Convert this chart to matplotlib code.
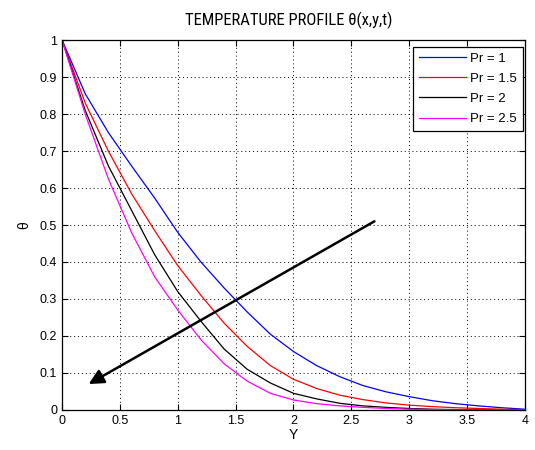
import numpy as np
import matplotlib
matplotlib.use("Agg")
import matplotlib.pyplot as plt
from matplotlib import font_manager

# data
y_pos = [0.0, 0.2, 0.4, 0.6, 0.8, 1.0, 1.2, 1.4, 1.6, 1.8, 2.0,
         2.2, 2.4, 2.6, 2.8, 3.0, 3.2, 3.4, 3.6, 3.8, 4.0]
theta_pr1 = [1.0, 0.855, 0.75, 0.66, 0.573, 0.48, 0.40, 0.33, 0.265, 0.205, 0.158,
             0.12, 0.09, 0.066, 0.049, 0.036, 0.025, 0.017, 0.011, 0.006, 0.002]
theta_pr15 = [1.0, 0.83, 0.70, 0.585, 0.485, 0.39, 0.31, 0.235, 0.172, 0.12, 0.083,
              0.058, 0.04, 0.028, 0.019, 0.013, 0.009, 0.006, 0.004, 0.002, 0.001]
theta_pr2 = [1.0, 0.81, 0.66, 0.54, 0.42, 0.32, 0.24, 0.165, 0.11, 0.073, 0.045,
             0.03, 0.018, 0.011, 0.007, 0.004, 0.002, 0.001, 0.001, 0.0, 0.0]
theta_pr25 = [1.0, 0.80, 0.625, 0.48, 0.36, 0.27, 0.19, 0.125, 0.078, 0.045, 0.027,
              0.017, 0.011, 0.007, 0.004, 0.002, 0.001, 0.0, 0.0, 0.0, 0.0]
labels = ["Pr = 1", "Pr = 1.5", "Pr = 2", "Pr = 2.5"]
colors = ["#0000ff", "#ff0000", "#000000", "#ff00ff"]

# arrow showing increasing Pr
arrow_start = (2.7, 0.51)
arrow_end = (0.23, 0.07)

plt.rcParams["font.family"] = ["Liberation Sans", "DejaVu Sans"]

# pick a narrow face for the title if one is installed
names = set(f.name for f in font_manager.fontManager.ttflist)
narrow = None
for n in ["Liberation Sans Narrow", "Roboto Condensed", "Open Sans Condensed"]:
    if n in names:
        narrow = n
        break
if narrow is not None:
    title_kw = dict(family=[narrow, "DejaVu Sans"], fontsize=12)
elif any(f.name == "DejaVu Sans" and "condensed" in str(f.stretch) for f in font_manager.fontManager.ttflist):
    title_kw = dict(family=["DejaVu Sans"], stretch="condensed", fontsize=10)
else:
    title_kw = dict(family=["DejaVu Sans"], fontsize=9)

fig = plt.figure(figsize=(5.35, 4.5), dpi=100)
ax = fig.add_axes([0.116, 0.089, 0.865, 0.822])

for th, lab, c in zip([theta_pr1, theta_pr15, theta_pr2, theta_pr25], labels, colors):
    ax.plot(y_pos, th, color=c, lw=0.9, label=lab)

ax.annotate("", xy=arrow_end, xytext=arrow_start,
            arrowprops=dict(arrowstyle="-|>,head_length=0.9,head_width=0.45",
                            color="black", lw=1.8, shrinkA=0, shrinkB=0))

ax.set_xlim(0, 4)
ax.set_ylim(0, 1)
ax.set_xticks(np.arange(0, 4.01, 0.5))
ax.set_xticklabels(["0", "0.5", "1", "1.5", "2", "2.5", "3", "3.5", "4"])
ax.set_yticks(np.arange(0, 1.01, 0.1))
ax.set_yticklabels(["0", "0.1", "0.2", "0.3", "0.4", "0.5", "0.6", "0.7", "0.8", "0.9", "1"])
ax.tick_params(direction="in", top=True, right=True, labelsize=9, length=4, width=0.8)
ax.grid(True, linestyle=(0, (1, 3)), color="black", lw=0.7)
for s in ax.spines.values():
    s.set_linewidth(0.9)

ax.set_xlabel("Y", fontsize=10, labelpad=1)
ax.set_ylabel("θ", fontsize=10, labelpad=6)
ax.set_title("TEMPERATURE PROFILE θ(x,y,t)", pad=11, x=0.49, **title_kw)

leg = ax.legend(loc="upper right", bbox_to_anchor=(0.999, 0.986), fontsize=9.5,
                handlelength=3.6, labelspacing=0.6, fancybox=False, edgecolor="black",
                framealpha=1, borderaxespad=0.1, handletextpad=0.3, borderpad=0.45)
leg.get_frame().set_linewidth(0.9)

fig.savefig("out.png", dpi=100)
